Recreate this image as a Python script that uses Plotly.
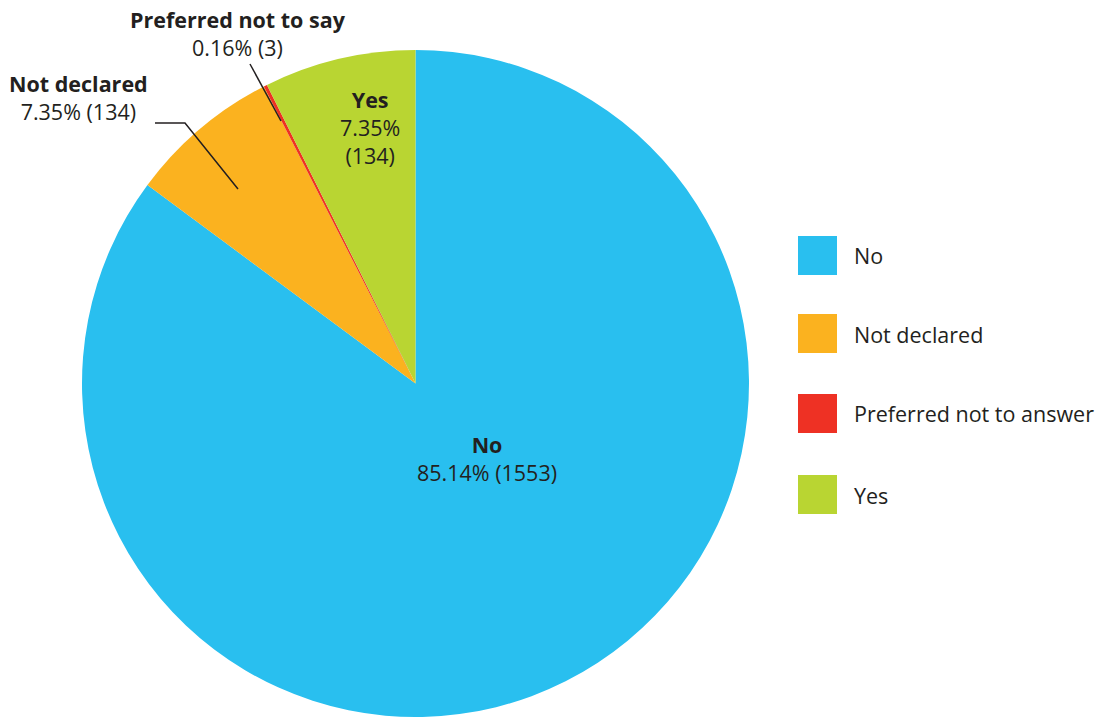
import plotly.graph_objects as go

# Survey responses
categories = ["No", "Not declared", "Preferred not to answer", "Yes"]
slice_names = ["No", "Not declared", "Preferred not to say", "Yes"]
counts = [1553, 134, 3, 134]
percents = [85.14, 7.35, 0.16, 7.35]
colors = ["#29BFEF", "#FBB21F", "#EE3124", "#B9D532"]

W, H = 1106, 718
FONT = "Open Sans"
TXT = "#231F20"
FS = 21.5


def px(x):
    return x / W


def py(y):
    return 1 - y / H


fig = go.Figure(
    go.Pie(
        labels=categories,
        values=counts,
        marker=dict(colors=colors, line=dict(width=0)),
        sort=False,
        direction="clockwise",
        rotation=0,
        textinfo="none",
        hoverinfo="label+value+percent",
        showlegend=False,
        domain=dict(x=[px(82), px(749)], y=[py(717), py(50)]),
    )
)


def label_text(i, br_after_pct=False):
    sep = "<br>" if br_after_pct else " "
    return f"<b>{slice_names[i]}</b><br>{percents[i]:.2f}%{sep}({counts[i]})"


annotations = []
# Slice labels: centre positions in pixels
label_pos = {0: (487, 458), 1: (78, 98), 2: (238, 34), 3: (370, 127)}
for i, (x, y) in label_pos.items():
    annotations.append(dict(
        x=px(x), y=py(y), xref="paper", yref="paper",
        text=label_text(i, br_after_pct=(i == 3)),
        showarrow=False, xanchor="center", yanchor="middle",
        align="center", font=dict(family=FONT, size=FS, color=TXT),
    ))

shapes = []
# Leader lines for the small outer labels
shapes.append(dict(type="path", xref="paper", yref="paper",
                   path=f"M {px(155)} {py(123)} L {px(185)} {py(123)} L {px(238)} {py(189)}",
                   line=dict(color=TXT, width=1.5)))
shapes.append(dict(type="line", xref="paper", yref="paper",
                   x0=px(250), y0=py(64), x1=px(281), y1=py(121),
                   line=dict(color=TXT, width=1.5)))

# Legend: large colour squares with labels
legend_tops = [236, 314, 394, 475]
for cat, col, top in zip(categories, colors, legend_tops):
    shapes.append(dict(type="rect", xref="paper", yref="paper",
                       x0=px(798), x1=px(837), y0=py(top + 39), y1=py(top),
                       fillcolor=col, line=dict(width=0)))
    annotations.append(dict(
        x=px(852), y=py(top + 20), xref="paper", yref="paper",
        text=cat, showarrow=False, xanchor="left", yanchor="middle",
        font=dict(family=FONT, size=FS, color=TXT),
    ))

fig.update_layout(
    width=W, height=H,
    margin=dict(l=0, r=0, t=0, b=0),
    paper_bgcolor="white", plot_bgcolor="white",
    annotations=annotations, shapes=shapes,
)

fig.write_html("out.html")
